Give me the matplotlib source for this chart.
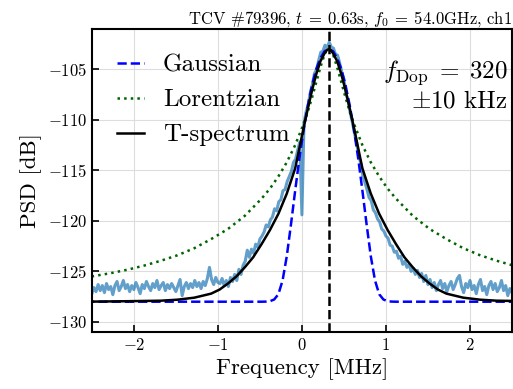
import numpy as np
import matplotlib
matplotlib.use("Agg")
import matplotlib.pyplot as plt

plt.rcParams['font.family'] = 'serif'
plt.rcParams['font.serif'] = ['cmr10']
plt.rcParams['mathtext.fontset'] = 'cm'
plt.rcParams['axes.formatter.use_mathtext'] = True

# measured spectrum, 201 bins from -2.5 to 2.5 MHz
freq = np.linspace(-2.5, 2.5, 201)
psd = [
    -127.2, -126.6, -127.0, -126.3, -126.9, -126.4, -127.1, -126.2, -126.8, -126.5,
    -127.3, -126.4, -126.0, -126.9, -126.5, -125.9, -126.7, -126.3, -127.0, -126.4,
    -126.8, -126.1, -126.6, -127.2, -126.3, -126.7, -126.0, -126.5, -126.9, -126.2,
    -126.6, -125.9, -126.8, -126.4, -126.1, -126.9, -126.3, -126.7, -126.2, -126.6,
    -127.0, -126.4, -125.8, -127.4, -126.5, -126.1, -126.7, -126.2, -126.6, -125.9,
    -126.5, -126.1, -126.7, -126.0, -126.4, -125.7, -124.6, -125.8, -126.3, -125.6,
    -126.1,
    -126.2, -125.7, -126.4, -125.9, -126.5, -125.6, -126.0, -125.3, -125.9, -124.8,
    -125.3, -124.4, -124.0, -122.9, -123.6, -122.8, -123.2, -122.3, -122.6, -121.8,
    -121.5, -121.1, -120.4, -120.6, -119.9, -119.6, -118.8, -119.0, -118.1, -117.9,
    -117.0, -116.9, -116.1, -115.6, -115.1, -114.2, -113.9, -113.0, -112.2,
    -119.4,
    -110.3, -109.2, -108.5, -107.3, -106.5, -105.4, -105.0, -104.1, -103.3, -103.2,
    -102.6, -102.9, -102.3, -102.8, -102.9, -103.5, -103.6, -104.4, -105.3, -106.0,
    -107.4, -108.1, -109.3, -110.2, -111.3, -112.2, -113.5, -114.3, -115.5, -116.2,
    -116.9, -117.7, -118.0, -118.9, -119.2, -119.8, -120.1, -120.8, -121.0, -121.5,
    -121.7, -122.4, -122.5, -123.1, -123.0, -123.7, -123.5, -124.3, -124.0, -124.6,
    -124.3, -125.0, -124.7, -125.3, -124.9, -125.6, -125.2, -126.0, -125.4, -126.3,
    -125.8, -126.6, -126.1, -126.9, -126.3, -125.9, -126.7, -126.2, -127.0, -126.4,
    -126.0, -126.8, -126.3, -125.7, -125.4, -126.5, -127.1, -126.2, -126.6, -125.9,
    -126.8, -126.4, -127.2, -126.3, -125.8, -126.9, -126.5, -127.3, -126.4, -126.0,
    -126.8, -126.2, -127.0, -126.6, -125.9, -126.9, -126.4, -127.4, -126.7, -127.1,
]

f_dop = 0.32  # MHz

# fitted profiles, given as offset from f_dop -> PSD (symmetric)
gauss_df = [0, 0.05, 0.10, 0.15, 0.20, 0.25, 0.30, 0.35, 0.40, 0.45,
            0.50, 0.55, 0.60, 0.65, 0.70, 0.75, 0.80, 2.9]
gauss_psd = [-103.0, -103.2, -103.9, -105.0, -106.6, -108.6, -111.0, -113.8, -117.0, -120.35,
             -123.5, -125.9, -127.26, -127.78, -127.95, -127.99, -128.0, -128.0]

lor_df = [0, 0.025, 0.05, 0.10, 0.15, 0.20, 0.25, 0.30, 0.40, 0.50, 0.60, 0.70, 0.80,
          1.00, 1.20, 1.40, 1.60, 1.80, 2.00, 2.20, 2.40, 2.60, 2.82, 2.9]
lor_psd = [-103.0, -103.13, -103.5, -104.8, -106.3, -107.8, -109.2, -110.4, -112.5, -114.2,
           -115.6, -116.8, -117.8, -119.5, -120.8, -121.8, -122.7, -123.4, -123.95, -124.43,
           -124.84, -125.18, -125.5, -125.61]

tspec_df = [0, 0.025, 0.05, 0.10, 0.15, 0.20, 0.25, 0.30, 0.35, 0.40, 0.50, 0.60, 0.70,
            0.80, 0.90, 1.00, 1.10, 1.20, 1.30, 1.40, 1.60, 1.80, 2.00, 2.40, 2.9]
tspec_psd = [-103.0, -103.1, -103.4, -104.2, -105.5, -107.1, -108.9, -110.8, -112.8, -114.8,
             -117.3, -119.3, -120.9, -122.3, -123.6, -124.6, -125.5, -126.2, -126.8, -127.2,
             -127.6, -127.8, -127.9, -127.95, -128.0]


def mirror(df, y):
    df = np.asarray(df)
    y = np.asarray(y)
    x = np.concatenate([f_dop - df[::-1], f_dop + df[1:]])
    return x, np.concatenate([y[::-1], y[1:]])


fig = plt.figure(figsize=(5.13, 3.89), dpi=100)
ax = fig.add_axes([0.179, 0.1465, 0.819, 0.779])

ax.plot(freq, psd, color='tab:blue', alpha=0.7, lw=2.2)
xg, yg = mirror(gauss_df, gauss_psd)
ax.plot(xg, yg, color='b', ls='--', lw=1.8, label='Gaussian')
xl, yl = mirror(lor_df, lor_psd)
ax.plot(xl, yl, color='darkgreen', ls=':', lw=1.8, label='Lorentzian')
xt, yt = mirror(tspec_df, tspec_psd)
ax.plot(xt, yt, color='k', lw=1.8, label='T-spectrum')
ax.axvline(f_dop, color='k', ls='--', lw=1.8)

ax.set_xlim(-2.5, 2.5)
ax.set_ylim(-131, -101)
ax.set_xticks([-2, -1, 0, 1, 2])
ax.set_yticks([-130, -125, -120, -115, -110, -105])
ax.grid(True, color='#dddddd', lw=0.8)
ax.tick_params(direction='in', length=5, width=1.2, labelsize=12)
for s in ax.spines.values():
    s.set_linewidth(1.5)

ax.set_xlabel('Frequency [MHz]', fontsize=16.5)
ax.set_ylabel('PSD [dB]', fontsize=16.5)
ax.set_title(r'TCV #79396, $t\:=\:0.63$s, $f_0\:=\:54.0$GHz, ch1', loc='right', fontsize=12, pad=2)

ax.text(0.99, 0.905, '$f_{\\rm Dop}\\;=\\;320$\n$\\pm 10$ kHz', transform=ax.transAxes,
        ha='right', va='top', fontsize=18, multialignment='right')

ax.legend(loc='upper left', frameon=False, fontsize=18, handlelength=1.1,
          handletextpad=0.75, labelspacing=0.5, borderaxespad=0.6)

fig.savefig('out.png', dpi=100)
